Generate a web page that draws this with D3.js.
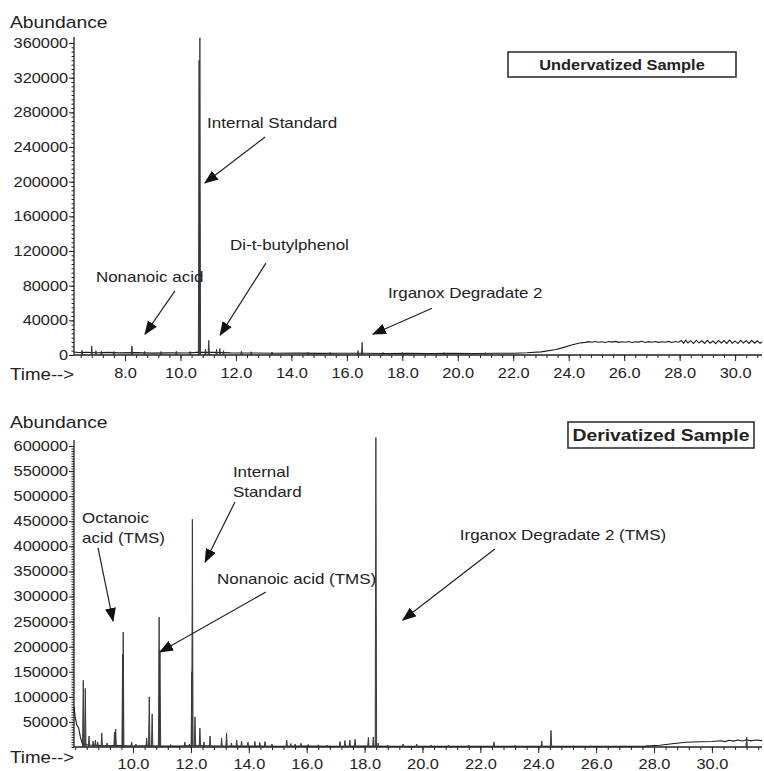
<!DOCTYPE html>
<html>
<head>
<meta charset="utf-8">
<script src="https://cdn.jsdelivr.net/npm/d3@7/dist/d3.min.js"></script>
<style>
body { margin: 0; background: #fff; }
svg { display: block; }
text { font-family: "Liberation Sans", Arial, sans-serif; fill: #222; }
</style>
</head>
<body>
<svg width="764" height="771"></svg>
<script>
// GC-MS chromatograms, undervatized vs derivatized sample

// ---- top trace: undervatized sample ----
var topYTicks = [0, 40000, 80000, 120000, 160000, 200000, 240000, 280000, 320000, 360000];
var topXTicks = [8, 10, 12, 14, 16, 18, 20, 22, 24, 26, 28, 30];
var topXLabels = ["8.0", "10.0", "12.0", "14.0", "16.0", "18.0", "20.0", "22.0", "24.0", "26.0", "28.0", "30.0"];

// [time (min), abundance]
var topBaseline = [
  [6.16, 3500], [6.3, 2800], [6.6, 3200], [7.0, 2600], [7.4, 3000], [7.8, 2400], [8.4, 2700],
  [9.0, 2200], [9.6, 2500], [10.2, 2300], [10.6, 3000], [11.2, 3200], [11.8, 2500], [12.6, 2300],
  [13.4, 2000], [14.2, 2200], [15.0, 1900], [15.8, 2100], [16.6, 2000], [17.4, 1800], [18.2, 1900],
  [19.0, 1700], [19.8, 1900], [20.6, 1800], [21.4, 2000], [22.0, 2100], [22.5, 2600], [23.0, 3600],
  [23.5, 6000], [23.8, 8500], [24.1, 11500], [24.4, 13800],
  [24.6, 14600], [24.72, 15400], [24.84, 14800], [24.96, 15600], [25.08, 14700], [25.2, 15300],
  [25.32, 14500], [25.44, 15500], [25.56, 14900], [25.68, 15700], [25.8, 14600], [25.92, 15200],
  [26.04, 14800], [26.16, 15600], [26.28, 14400], [26.4, 15300], [26.52, 14900], [26.64, 15800],
  [26.76, 14500], [26.88, 15400], [27.0, 14700], [27.12, 15600], [27.24, 14600], [27.36, 15300],
  [27.48, 14800], [27.6, 15700], [27.72, 14500], [27.84, 15500], [27.96, 14700], [28.06, 16800],
  [28.14, 13400], [28.22, 17200], [28.3, 13800], [28.4, 16500], [28.5, 13200], [28.6, 16900],
  [28.7, 14000], [28.8, 16400], [28.9, 13300], [29.0, 17000], [29.1, 13600], [29.2, 16200],
  [29.3, 13100], [29.4, 16800], [29.5, 13900], [29.6, 16600], [29.7, 13300], [29.8, 17100],
  [29.9, 13700], [30.0, 16300], [30.1, 13200], [30.2, 16900], [30.3, 13800], [30.4, 16500],
  [30.5, 13400], [30.6, 17000], [30.7, 13600], [30.8, 16400], [30.9, 13500], [30.97, 15200]
];
var topPeaks = [
  [6.45, 5500], [6.8, 10500], [6.95, 5000], [7.15, 4500], [7.6, 4000], [8.25, 10500], [8.7, 4200],
  [9.3, 4000], [9.85, 4300], [10.35, 4000], [10.67, 340000], [10.70, 366000], [10.9, 6500],
  [11.02, 17000], [11.3, 6500], [11.42, 7500], [11.55, 5000], [12.2, 4500], [12.55, 3800],
  [13.3, 3500], [14.6, 3200], [15.4, 3000], [16.4, 5000], [16.55, 14500], [17.3, 3000],
  [18.0, 3000], [19.5, 2800], [21.0, 2800]
];

// ---- bottom trace: derivatized sample ----
var botYTicks = [50000, 100000, 150000, 200000, 250000, 300000, 350000, 400000, 450000, 500000, 550000, 600000];
var botXTicks = [10, 12, 14, 16, 18, 20, 22, 24, 26, 28, 30];
var botXLabels = ["10.0", "12.0", "14.0", "16.0", "18.0", "20.0", "22.0", "24.0", "26.0", "28.0", "30.0"];

var botBaseline = [
  [7.96, 80000], [8.0, 60000], [8.05, 45000], [8.12, 38000], [8.18, 20000], [8.25, 6000],
  [8.45, 4000], [8.7, 3500], [9.0, 2500], [9.5, 2800], [10.0, 2000], [10.5, 2500], [11.0, 2000],
  [11.5, 1800], [12.0, 2500], [12.5, 2500], [13.0, 2000], [14.0, 1800], [15.0, 1600], [16.0, 1700],
  [17.0, 1500], [18.0, 1800], [19.0, 1500], [20.0, 1400], [21.0, 1500], [22.0, 1400], [23.0, 1500],
  [24.0, 1600], [25.0, 1400], [26.0, 1500], [27.0, 1500], [27.7, 1700], [28.2, 3500], [28.7, 7000],
  [29.1, 9500], [29.6, 10500], [30.0, 11000], [30.3, 12500], [30.45, 10800], [30.6, 13500],
  [30.75, 11800], [30.9, 14000], [31.05, 12000], [31.2, 14500], [31.35, 12200], [31.5, 14000],
  [31.73, 12800]
];
var botPeaks = [
  [8.28, 133000], [8.35, 117000], [8.48, 22000], [8.62, 12000], [8.7, 14000], [8.78, 10000],
  [8.92, 28000], [9.1, 8000], [9.36, 30000], [9.4, 36000], [9.64, 185000], [9.66, 229000],
  [9.95, 10000], [10.1, 6000], [10.47, 18000], [10.56, 100000], [10.66, 66000], [10.9, 259000],
  [10.93, 193000], [11.3, 5000], [11.79, 10000], [11.95, 6000], [12.03, 150000], [12.05, 454000],
  [12.14, 60000], [12.31, 38000], [12.45, 10000], [12.66, 22000], [13.06, 18000], [13.23, 28000],
  [13.4, 8000], [13.58, 14000], [13.75, 12000], [13.97, 10000], [14.21, 11000], [14.38, 9000],
  [14.56, 11000], [14.8, 6000], [15.31, 14000], [15.45, 7000], [15.6, 6000], [15.8, 7500],
  [16.05, 5000], [16.4, 4500], [16.7, 4000], [17.15, 11000], [17.32, 13000], [17.49, 14000],
  [17.67, 15500], [18.13, 19000], [18.3, 20000], [18.39, 617000], [18.47, 8000], [18.8, 4000],
  [19.33, 6000], [19.8, 6000], [20.3, 4000], [20.9, 4000], [21.6, 4000], [22.47, 10000],
  [23.2, 3500], [24.12, 12000], [24.44, 33000], [31.2, 20000]
];

// annotations, anchored in data units: text at [t, v], arrow from -> to
var topNotes = [
  { lines: ["Internal Standard"], at: [10.96, 262000], from: [13.05, 251500], to: [10.88, 198500] },
  { lines: ["Di-t-butylphenol"], at: [11.79, 121000], from: [13.08, 106000], to: [11.43, 23000] },
  { lines: ["Nonanoic acid"], at: [6.95, 84000], from: [9.8, 74000], to: [8.72, 24000] },
  { lines: ["Irganox Degradate 2"], at: [17.48, 66000], from: [19.07, 54000], to: [16.94, 24000] }
];
var botNotes = [
  { lines: ["Octanoic", "acid (TMS)"], at: [8.24, 446500], from: [8.79, 396700], to: [9.31, 251100] },
  { lines: ["Internal", "Standard"], at: [13.45, 538200], from: [13.52, 488300], to: [12.49, 368700] },
  { lines: ["Nonanoic acid (TMS)"], at: [12.9, 324900], from: [14.59, 308900], to: [10.93, 189300] },
  { lines: ["Irganox Degradate 2 (TMS)"], at: [21.29, 412600], from: [22.5, 394600], to: [19.32, 253100] }
];

var SX = 1.17; // the figure is stretched horizontally
var svg = d3.select("svg");

svg.append("defs").append("marker")
    .attr("id", "head")
    .attr("markerUnits", "userSpaceOnUse")
    .attr("viewBox", "0 -6 14 12")
    .attr("refX", 13).attr("refY", 0)
    .attr("markerWidth", 14).attr("markerHeight", 12)
    .attr("orient", "auto")
  .append("path")
    .attr("d", "M0,-5.5L14,0L0,5.5Z")
    .attr("fill", "#111");

function label(g, x, y, str, size, anchor, bold) {
  return g.append("text")
      .attr("transform", "translate(" + x + "," + y + ") scale(" + SX + ",1)")
      .attr("text-anchor", anchor || "start")
      .style("font-size", size + "px")
      .style("font-weight", bold ? "bold" : null)
      .text(str);
}

function styleAxis(sel, size) {
  sel.attr("font-family", null).attr("font-size", null);
  sel.select(".domain").remove();
  sel.selectAll("line").attr("stroke", "#222");
  sel.selectAll("text").style("font-size", size + "px").attr("transform", "scale(" + SX + ",1)");
}

function drawPanel(cfg) {
  var g = svg.append("g");
  var x = d3.scaleLinear().domain(cfg.tDomain).range([74, 762]);
  var y = d3.scaleLinear().domain([0, cfg.yMax]).range([cfg.y0, cfg.y1]);

  // minor ticks
  g.append("g").attr("transform", "translate(74,0)")
      .call(d3.axisLeft(y).tickValues(d3.range(0, cfg.yMax + 1, 5000)).tickSize(2.5).tickFormat(""))
      .call(styleAxis, 14);
  g.append("g").attr("transform", "translate(0," + cfg.y0 + ")")
      .call(d3.axisBottom(x).tickValues(d3.range(Math.ceil(cfg.tDomain[0] / 0.4) * 0.4, cfg.tDomain[1], 0.4)).tickSize(3).tickFormat(""))
      .call(styleAxis, 14);

  // major ticks + labels
  g.append("g").attr("transform", "translate(74,0)")
      .call(d3.axisLeft(y).tickValues(cfg.yTicks).tickSizeInner(5).tickSizeOuter(0).tickPadding(0).tickFormat(d3.format("d")))
      .call(styleAxis, 14);
  g.append("g").attr("transform", "translate(0," + cfg.y0 + ")")
      .call(d3.axisBottom(x).tickValues(cfg.xTicks).tickSizeInner(6).tickSizeOuter(0).tickPadding(cfg.xPad)
        .tickFormat(function(d, i) { return cfg.xLabels[i]; }))
      .call(styleAxis, 14);

  // axis lines
  g.append("line").attr("x1", 74).attr("x2", 74).attr("y1", cfg.y0).attr("y2", cfg.axisTop)
      .attr("stroke", "#222").attr("stroke-width", 1.3);
  g.append("line").attr("x1", 74).attr("x2", 762).attr("y1", cfg.y0).attr("y2", cfg.y0)
      .attr("stroke", "#222").attr("stroke-width", 1.3);

  label(g, 10, cfg.abundY, "Abundance", 16.5);
  label(g, 10, cfg.timeY, "Time-->", 16);

  // trace
  var line = d3.line().x(function(d) { return x(d[0]); }).y(function(d) { return y(d[1]); });
  g.append("path").datum(cfg.baseline)
      .attr("d", line)
      .attr("fill", "none").attr("stroke", "#1a1a1a").attr("stroke-width", 1.1);
  g.append("g").selectAll("path")
    .data(cfg.peaks)
    .enter().append("path")
      .attr("d", function(d) {
        return line([[d[0] - 0.025, 0], [d[0], d[1]], [d[0] + 0.025, 0]]);
      })
      .attr("fill", "#555").attr("stroke", "#333").attr("stroke-width", 0.9);

  // sample title box
  var b = cfg.box;
  g.append("rect").attr("x", b.x).attr("y", b.y).attr("width", b.w).attr("height", b.h)
      .attr("fill", "#fff").attr("stroke", "#333").attr("stroke-width", 1.6);
  label(g, b.x + b.w / 2, b.y + b.h / 2 + b.size * 0.36, b.text, b.size, "middle", true);

  // annotations
  cfg.notes.forEach(function(n) {
    n.lines.forEach(function(s, i) {
      label(g, x(n.at[0]), y(n.at[1]) + i * 19.5, s, 14.5);
    });
    g.append("line")
        .attr("x1", x(n.from[0])).attr("y1", y(n.from[1]))
        .attr("x2", x(n.to[0])).attr("y2", y(n.to[1]))
        .attr("stroke", "#222").attr("stroke-width", 1.2)
        .attr("marker-end", "url(#head)");
  });
}

drawPanel({
  tDomain: [6.16, 30.97], yMax: 360000, y0: 355, y1: 43, axisTop: 37,
  yTicks: topYTicks, xTicks: topXTicks, xLabels: topXLabels, xPad: 7,
  abundY: 28, timeY: 380,
  baseline: topBaseline, peaks: topPeaks, notes: topNotes,
  box: { x: 508, y: 52, w: 228, h: 25, text: "Undervatized Sample", size: 14 }
});

drawPanel({
  tDomain: [7.96, 31.73], yMax: 600000, y0: 747, y1: 446, axisTop: 440,
  yTicks: botYTicks, xTicks: botXTicks, xLabels: botXLabels, xPad: 6,
  abundY: 428, timeY: 763,
  baseline: botBaseline, peaks: botPeaks, notes: botNotes,
  box: { x: 568, y: 422, w: 186, h: 26, text: "Derivatized Sample", size: 16.5 }
});
</script>
</body>
</html>
